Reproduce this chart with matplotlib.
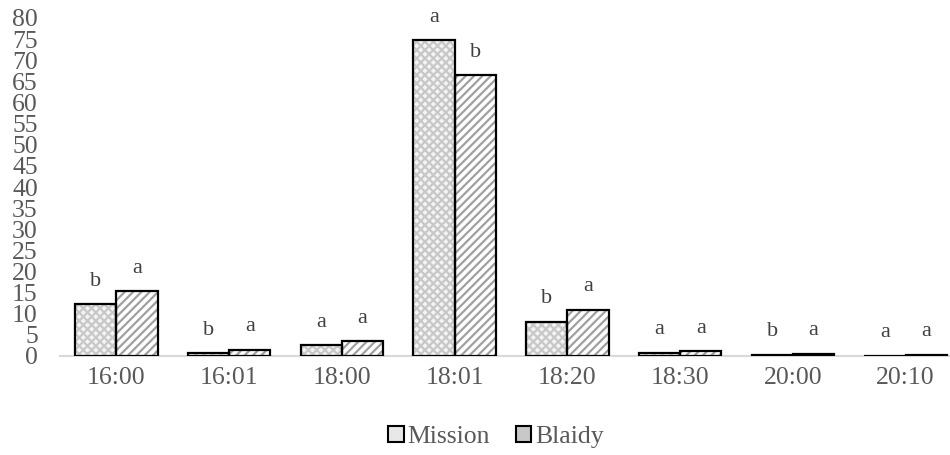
import numpy as np
import matplotlib.pyplot as plt
from matplotlib.patches import Patch

# data
times = ['16:00', '16:01', '18:00', '18:01', '18:20', '18:30', '20:00', '20:10']
mission = [12.3, 0.7, 2.5, 74.8, 8.1, 0.8, 0.3, 0.05]
blaidy = [15.4, 1.5, 3.5, 66.5, 11.0, 1.2, 0.5, 0.3]
mission_letters = ['b', 'b', 'a', 'a', 'b', 'a', 'b', 'a']
blaidy_letters = ['a', 'a', 'a', 'b', 'a', 'a', 'a', 'a']
yticks = np.arange(0, 81, 5)

plt.rcParams['font.family'] = ['Liberation Serif', 'DejaVu Serif']
plt.rcParams['hatch.linewidth'] = 1.6

fig = plt.figure(figsize=(9.5, 4.55), dpi=100)
# plot area: x 60..962 px, y 18..356 px
ax = fig.add_axes([60/950, 99/455, 902/950, 338/455])

x = np.arange(len(times))
w = 0.365

#hatch layers first, black outline on top
ax.bar(x - w/2, mission, w, color='#f4f4f4', edgecolor='#c8c8c8',
       hatch='xxxx', linewidth=0, zorder=2)
ax.bar(x + w/2, blaidy, w, color='#ffffff', edgecolor='#a0a0a0',
       hatch='////', linewidth=0, zorder=2)
ax.bar(x - w/2, mission, w, fill=False, edgecolor='black', linewidth=1.6, zorder=3)
ax.bar(x + w/2, blaidy, w, fill=False, edgecolor='black', linewidth=1.6, zorder=3)

#significance letters
for i in range(len(times)):
    ax.annotate(mission_letters[i], (x[i] - w/2, mission[i]), xytext=(0, 16.5),
                textcoords='offset points', ha='center', va='center',
                fontsize=16, color='#404040', annotation_clip=False)
    ax.annotate(blaidy_letters[i], (x[i] + w/2, blaidy[i]), xytext=(0, 16.5),
                textcoords='offset points', ha='center', va='center',
                fontsize=16, color='#404040', annotation_clip=False)

ax.set_xlim(-0.5, len(times) - 0.5)
ax.set_ylim(0, 80)
ax.set_yticks(yticks)
ax.set_xticks(x)
ax.set_xticklabels(times)

for s in ['top', 'right', 'left']:
    ax.spines[s].set_visible(False)
ax.spines['bottom'].set_color('#d9d9d9')
ax.spines['bottom'].set_linewidth(1.5)
ax.spines['bottom'].set_zorder(1)

ax.tick_params(axis='y', length=0, pad=16, labelsize=18.5, labelcolor='#595959')
ax.tick_params(axis='x', length=0, pad=8, labelsize=18.5, labelcolor='#595959')

#legend
handles = [Patch(facecolor='#e8e8e8', edgecolor='black', linewidth=1.5),
           Patch(facecolor='#c8c8c8', edgecolor='black', linewidth=1.5)]
fig.legend(handles, ['Mission', 'Blaidy'], loc='center', bbox_to_anchor=(496/950, 1 - 437/455),
           ncol=2, frameon=False, fontsize=18.5, labelcolor='#595959',
           handlelength=0.6, handleheight=0.6, handletextpad=0.15, columnspacing=1.0)

fig.savefig('out.png', dpi=100)
